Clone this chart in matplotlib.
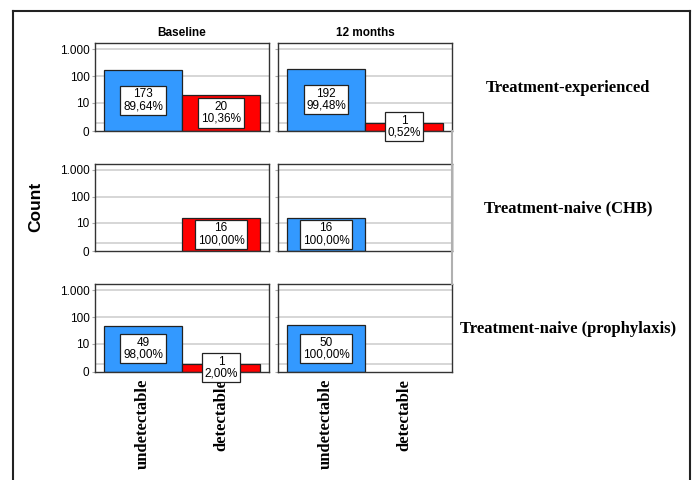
import numpy as np
import matplotlib.pyplot as plt
from matplotlib.lines import Line2D

# counts per group, time point and viral load status
groups = ['Treatment-experienced', 'Treatment-naive (CHB)', 'Treatment-naive (prophylaxis)']
times = ['Baseline', '12 months']
status = ['undetectable', 'detectable']
counts = {
    'Treatment-experienced': [[173, 20], [192, 1]],
    'Treatment-naive (CHB)': [[0, 16], [16, 0]],
    'Treatment-naive (prophylaxis)': [[49, 1], [50, 0]],
}
pcts = {
    'Treatment-experienced': [['89,64%', '10,36%'], ['99,48%', '0,52%']],
    'Treatment-naive (CHB)': [['', '100,00%'], ['100,00%', '']],
    'Treatment-naive (prophylaxis)': [['98,00%', '2,00%'], ['100,00%', '']],
}
yticks = [0, 10, 100, 1000]
ytick_labels = ['0', '10', '100', '1.000']
colors = ['#3399ff', '#ff0000']


# safe log scale: log10(1 + x)
def fwd(v):
    return np.log10(1 + np.clip(v, 0, None))


def inv(v):
    return 10 ** v - 1


W, H = 696, 480
fig = plt.figure(figsize=(W / 100, H / 100), dpi=100)

cols_px = [(95, 269), (278, 452)]
rows_px = [(43, 131), (164, 251), (284, 372)]

sans = 'Liberation Sans'
serif = 'Liberation Serif'

for r, g in enumerate(groups):
    y0, y1 = rows_px[r]
    for c, t in enumerate(times):
        x0, x1 = cols_px[c]
        ax = fig.add_axes([x0 / W, 1 - y1 / H, (x1 - x0) / W, (y1 - y0) / H])
        ax.set_yscale('function', functions=(fwd, inv))
        ax.set_ylim(0, 1660)
        ax.set_xlim(-0.615, 1.615)
        for gv in [1, 10, 100, 1000]:
            ax.axhline(gv, color='#d0d0d0', lw=1.2, zorder=0)
        vals = counts[g][c]
        for i, v in enumerate(vals):
            if v <= 0:
                continue
            ax.bar(i, v, width=1.0, color=colors[i], edgecolor='#222222', lw=0.9, zorder=2)
            ymid = inv(fwd(v) / 2)
            ax.text(i, ymid, f'{v}\n{pcts[g][c][i]}', ha='center', va='center',
                    fontsize=8.5, family=sans, linespacing=1.0, zorder=4, clip_on=False,
                    bbox=dict(boxstyle='square,pad=0.22', fc='white', ec='#222222', lw=0.9))
        for s in ax.spines.values():
            s.set_color('#333333')
            s.set_linewidth(1.0)
        ax.set_yticks(yticks)
        ax.yaxis.set_minor_locator(plt.NullLocator())
        if c == 0:
            ax.set_yticklabels(ytick_labels, family=sans, fontsize=8.5)
        else:
            ax.set_yticklabels([])
        ax.tick_params(axis='y', length=2, color='#aaaaaa', pad=2)
        ax.set_xticks([0, 1])
        if r == 2:
            ax.set_xticklabels(status, rotation=90, family=serif, fontweight='bold', fontsize=12)
        else:
            ax.set_xticklabels([])
        ax.tick_params(axis='x', length=0, pad=5)
        if r == 0:
            ax.set_title(t, family=sans, fontweight='bold', fontsize=8.5, pad=5)
    yc = (y0 + y1) / 2 + 1
    fig.text(568 / W, 1 - yc / H, g, ha='center', va='center',
             family=serif, fontweight='bold', fontsize=12)

fig.text(36 / W, 1 - 207 / H, 'Count', rotation=90, ha='center', va='center',
         family=sans, fontweight='bold', fontsize=12.5)

# grey separator on the right of the panels
fig.add_artist(Line2D([452 / W, 452 / W], [1 - 131 / H, 1 - 284 / H],
                      color='#b0b0b0', lw=1.5))

# outer frame
frame = dict(color='#222222', lw=1.5)
fig.add_artist(Line2D([13 / W, 13 / W], [0, 1 - 11 / H], **frame))
fig.add_artist(Line2D([13 / W, 690 / W], [1 - 11 / H, 1 - 11 / H], **frame))
fig.add_artist(Line2D([690 / W, 690 / W], [0, 1 - 11 / H], **frame))

fig.savefig('out.png', dpi=100)
